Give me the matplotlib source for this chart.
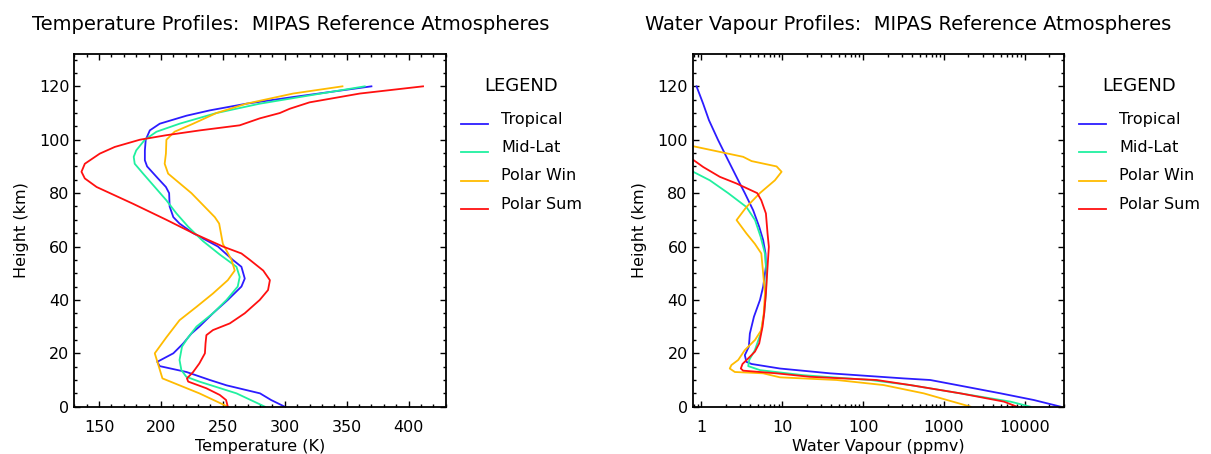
import matplotlib
matplotlib.use('Agg')
import matplotlib.pyplot as plt
from matplotlib.lines import Line2D
from matplotlib.ticker import MultipleLocator, LogLocator, FixedLocator

# ---- temperature profiles (K) vs height (km) ----
trop_t_h = [0, 2.5, 5, 8, 10, 13, 15.2, 16.8, 20, 23.7, 27.4, 30, 35, 40, 45, 48, 52.4, 55, 60,
            65, 68.6, 71, 75, 80, 82.3, 85.5, 90, 92.3, 96, 100, 103.5, 106, 109, 111, 113.5, 116, 120]
trop_t = [300, 289, 280, 253, 239.5, 220.6, 199, 197, 210, 218, 224.6, 231, 242, 254, 265, 267.7, 265, 258, 246,
          226, 215, 210, 207, 206.6, 204, 197.6, 188.8, 187, 187, 187.7, 191, 199, 220.6, 239.5, 269, 306.8, 370]

mid_t_h = [0, 5, 9.4, 11.2, 13.7, 17.5, 22.5, 26, 30, 35, 40, 45, 48.6, 52.4, 57, 62, 67.4, 72.4,
           77.3, 82.3, 87.3, 91, 93.6, 96, 100, 103, 106, 110, 113.5, 116.6, 120]
mid_t = [284, 261, 231, 220.5, 216.5, 215, 217, 222, 228.7, 242, 253, 262, 263.6, 261, 247.5, 234, 222, 212.5,
         204.4, 195, 185.6, 178.8, 178, 180, 187, 196.4, 215, 244.8, 279.8, 320, 364.6]

pwin_t_h = [0, 5, 10.6, 20, 26, 32.4, 37.4, 42.4, 47.4, 51, 55, 61, 68.6, 71, 80, 87.3, 91, 94.8,
            100, 103, 106, 110, 113.5, 117.3, 120]
pwin_t = [254, 231, 201.2, 195, 204.4, 215, 228.7, 242, 254, 259.6, 257, 250, 247, 243.5, 224.6, 205.8, 203, 204,
          204.4, 211, 226, 244.8, 269, 306.7, 346.6]

psum_t_h = [0, 2.5, 4.4, 6.9, 9.4, 10.6, 13, 16.2, 20, 23.7, 26.8, 28.7, 31.2, 35, 40, 43.7, 47.4, 51,
            55, 57.4, 60, 65, 70, 76, 82.3, 85.5, 88, 91, 94.8, 97.3, 100, 101.7, 103.5, 105.4, 108,
            110, 111.6, 114, 117.3, 120]
psum_t = [254, 252.6, 247.5, 236.7, 222, 221, 226, 231, 235.5, 236, 236.7, 242, 255.6, 267.7, 279.8, 286.5, 288,
          282.6, 271.8, 265, 250, 226, 204.4, 177.5, 148, 138.5, 135.8, 138.5, 150.6, 162.7, 182.9, 204.4,
          231.4, 263.6, 279.8, 296, 304, 320, 360.6, 411.7]

# ---- water vapour profiles (ppmv) vs height (km) ----
trop_w_h = [0, 2.5, 5, 8.1, 10, 10.6, 12.5, 14.3, 16, 16.8, 19.3, 22.5, 27.4, 33.7, 40, 45, 52.4, 57.4,
            62.4, 67.4, 73.6, 80, 84.8, 92.3, 100, 107.3, 113.5, 120]
trop_w = [27700, 12900, 5000, 1450, 676, 316, 39, 9.35, 4.17, 3.6, 3.44, 3.86, 3.97, 4.46, 5.3, 5.8, 6.27, 6.2,
          5.8, 5.18, 4.36, 3.44, 2.85, 2.14, 1.6, 1.24, 1.05, 0.87]

mid_w_h = [0, 1.9, 5, 8.1, 10, 11.8, 13.7, 15.2, 17.5, 21.2, 27.4, 35, 42.4, 49.9, 57.4, 63.6, 69.9,
           74.8, 80, 84.8, 88]
mid_w = [11700, 6630, 1590, 382, 122, 18.2, 5.3, 3.79, 3.9, 4.58, 5.4, 5.97, 6.27, 6.4, 6.1, 5.4, 4.6,
         3.6, 2.14, 1.27, 0.79]

pwin_w_h = [0, 2.5, 5, 8.1, 10, 11, 12.5, 13, 14.3, 15.6, 17.5, 21.2, 25, 28.7, 35, 42.4, 49.9, 57.4,
            61, 64.9, 69.9, 74.8, 80, 84.8, 88, 90, 92, 93.6, 97.6]
pwin_w = [2130, 1090, 561, 179, 47, 9.35, 5.8, 2.59, 2.24, 2.35, 2.85, 3.44, 4.6, 5.5, 5.9, 6.1, 5.8, 5.5,
          4.58, 3.6, 2.72, 3.6, 5.28, 8.1, 9.8, 8.5, 4.17, 3.28, 0.78]

psum_w_h = [0, 1.9, 5, 8.1, 10, 11.2, 12.5, 13.5, 14.3, 16, 18.1, 20.6, 23.7, 30, 35, 42.4, 52.4, 59.9,
            64.9, 72.4, 77.3, 80, 83.6, 86.1, 89.8, 92.6]
psum_w = [7970, 5500, 1590, 382, 147, 22, 8.5, 3.28, 3.07, 3.22, 3.79, 4.58, 5.18, 5.7, 5.97, 6.27, 6.57, 6.82,
          6.57, 6.27, 5.5, 4.9, 2.72, 1.69, 1.05, 0.78]

names = ['Tropical', 'Mid-Lat', 'Polar Win', 'Polar Sum']
colors = ['#2c1cff', '#20f0a0', '#ffbb00', '#ff1010']

W, H = 1211, 454


def fx(px):
    return px / W


def fy(py):
    return 1 - py / H


fig = plt.figure(figsize=(W / 100, H / 100), dpi=100)
plt.rcParams['font.family'] = 'DejaVu Sans'

ax1 = fig.add_axes([fx(74.3), fy(406.7), fx(445.7) - fx(74.3), fy(54.3) - fy(406.7)])
ax2 = fig.add_axes([fx(692.7), fy(406.7), fx(1063.5) - fx(692.7), fy(54.3) - fy(406.7)])

temp_data = [(trop_t, trop_t_h), (mid_t, mid_t_h), (pwin_t, pwin_t_h), (psum_t, psum_t_h)]
wv_data = [(trop_w, trop_w_h), (mid_w, mid_w_h), (pwin_w, pwin_w_h), (psum_w, psum_w_h)]

for (x, h), c in zip(temp_data, colors):
    ax1.plot(x, h, color=c, lw=1.3)
for (x, h), c in zip(wv_data, colors):
    ax2.plot(x, h, color=c, lw=1.3)

ax1.set_xlim(130, 430)
ax1.xaxis.set_major_locator(FixedLocator([150, 200, 250, 300, 350, 400]))
ax1.xaxis.set_minor_locator(MultipleLocator(10))
ax2.set_xscale('log')
ax2.set_xlim(0.78, 30000)
ax2.xaxis.set_major_locator(FixedLocator([1, 10, 100, 1000, 10000]))
ax2.xaxis.set_minor_locator(LogLocator(base=10, subs=range(2, 10)))
ax2.set_xticklabels(['1', '10', '100', '1000', '10000'])

for ax in (ax1, ax2):
    ax.set_ylim(0, 132)
    ax.yaxis.set_major_locator(MultipleLocator(20))
    ax.yaxis.set_minor_locator(MultipleLocator(5))
    ax.tick_params(which='both', direction='in', top=True, right=True, width=1.0, labelsize=11.5)
    ax.tick_params(which='major', length=4.5)
    ax.tick_params(which='minor', length=2.4)
    ax.tick_params(axis='y', pad=3.6)
    ax.tick_params(axis='x', pad=9.5)
    for s in ax.spines.values():
        s.set_linewidth(1.3)
    ax.set_ylabel('Height (km)', fontsize=11.5, labelpad=7)

ax1.set_xlabel('Temperature (K)', fontsize=11.5, labelpad=3)
ax2.set_xlabel('Water Vapour (ppmv)', fontsize=11.5, labelpad=3)

fig.text(fx(290.6), fy(25), 'Temperature Profiles:  MIPAS Reference Atmospheres',
         fontsize=14, ha='center', va='center')
fig.text(fx(908), fy(25), 'Water Vapour Profiles:  MIPAS Reference Atmospheres',
         fontsize=14, ha='center', va='center')

# legends drawn beside each panel
text_y = [119.3, 147.7, 176, 204.3]
line_y = [124, 152.3, 180.7, 209]
for off in (0, 618):
    fig.text(fx(521 + off), fy(86), 'LEGEND', fontsize=13, ha='center', va='center')
    for name, c, ty, ly in zip(names, colors, text_y, line_y):
        fig.add_artist(Line2D([fx(461 + off), fx(488.3 + off)], [fy(ly), fy(ly)],
                              transform=fig.transFigure, color=c, lw=1.3))
        fig.text(fx(501 + off), fy(ty), name, fontsize=11.5, ha='left', va='center')

fig.savefig('out.png', dpi=100)
